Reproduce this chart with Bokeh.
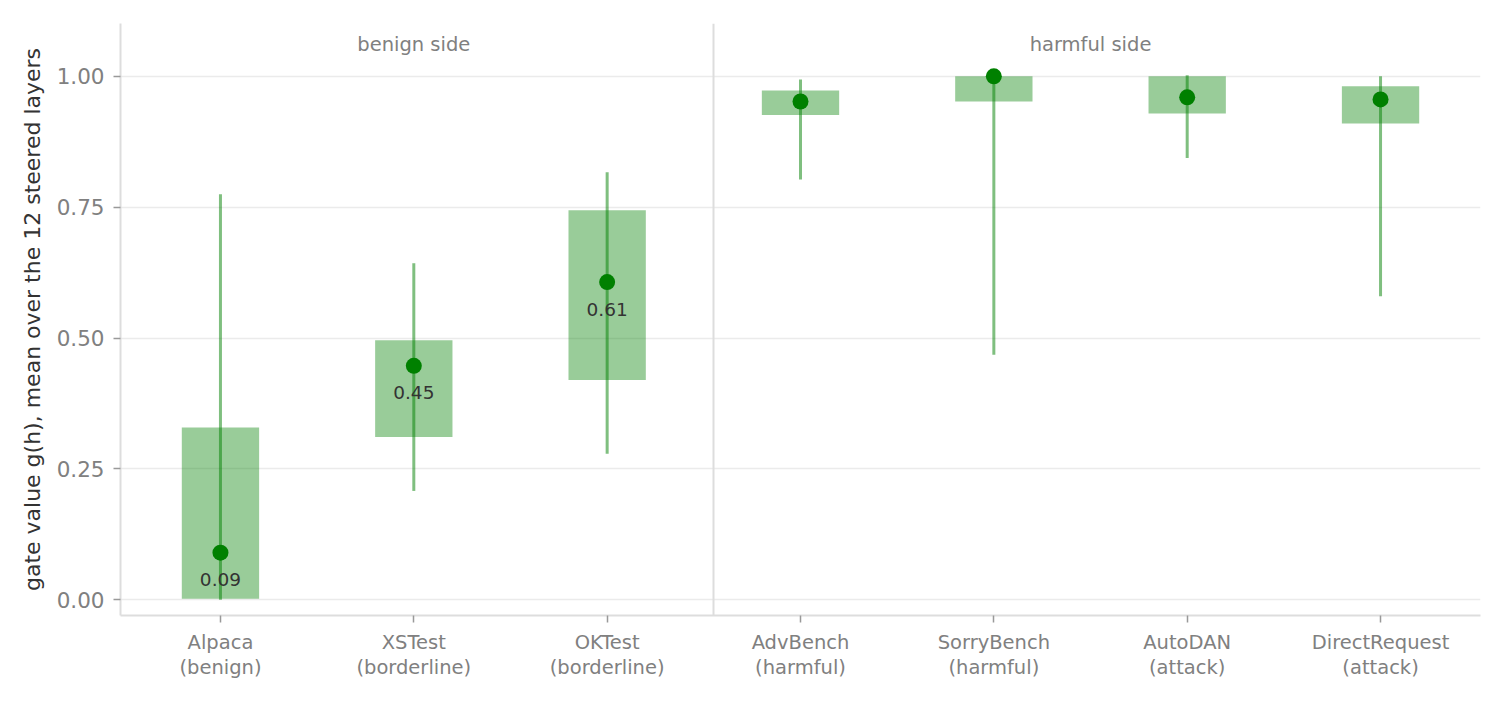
from bokeh.plotting import figure
from bokeh.models import FactorRange, Span, ColumnDataSource
from bokeh.core.properties import value
from bokeh.embed import file_html
from bokeh.resources import INLINE

categories = ["Alpaca\n(benign)", "XSTest\n(borderline)", "OKTest\n(borderline)",
              "AdvBench\n(harmful)", "SorryBench\n(harmful)", "AutoDAN\n(attack)",
              "DirectRequest\n(attack)"]
means = [0.090, 0.447, 0.607, 0.952, 1.000, 0.960, 0.956]
q_low = [0.002, 0.311, 0.420, 0.926, 0.952, 0.929, 0.910]
q_high = [0.329, 0.496, 0.744, 0.973, 1.000, 1.000, 0.981]
w_low = [0.000, 0.208, 0.279, 0.803, 0.468, 0.844, 0.580]
w_high = [0.775, 0.643, 0.817, 0.994, 1.000, 1.002, 1.000]
n_benign = 3
group_labels = ["benign side", "harmful side"]
group_centers = [1.5, 5.0]
group_y = [1.061, 1.061]

FONT = "DejaVu Sans"

p = figure(x_range=FactorRange(factors=categories, range_padding=0.017, range_padding_units="absolute"),
           y_range=(-0.03, 1.101),
           width=1488, height=688, output_backend="svg", toolbar_location=None,
           min_border_left=120, min_border_right=8, min_border_top=23, min_border_bottom=73)
p.outline_line_color = None
p.background_fill_color = "white"
p.border_fill_color = "white"

src = ColumnDataSource(dict(x=categories, m=means, ql=q_low, qh=q_high, wl=w_low, wh=w_high))
p.vbar(x="x", width=0.4, bottom="ql", top="qh", source=src,
       fill_color="green", fill_alpha=0.4, line_color=None)
p.segment(x0="x", y0="wl", x1="x", y1="wh", source=src,
          line_color="green", line_alpha=0.5, line_width=3)
p.scatter(x="x", y="m", source=src, size=16, fill_color="green", line_color=None)

lab = ColumnDataSource(dict(x=categories[:n_benign], y=means[:n_benign],
                            t=["%.2f" % v for v in means[:n_benign]]))
p.text(x="x", y="y", text="t", source=lab, text_align="center", text_baseline="middle",
       y_offset=27, text_font=value(FONT), text_font_size="18.5px", text_color="#333333")

p.text(x=group_centers, y=group_y, text=group_labels, text_align="center", text_baseline="middle",
       text_font=value(FONT), text_font_size="19.5px", text_color="#808080")

p.add_layout(Span(location=3.05, dimension="height", line_color="#dddddd", line_width=2))

p.xgrid.grid_line_color = None
p.ygrid.grid_line_color = "#ebebeb"
p.ygrid.grid_line_width = 1.5
p.yaxis.ticker = [0, 0.25, 0.5, 0.75, 1.0]
p.yaxis.major_label_overrides = {0: "0.00", 0.25: "0.25", 0.5: "0.50", 0.75: "0.75", 1.0: "1.00"}
p.yaxis.axis_label = "gate value g(h), mean over the 12 steered layers"
p.yaxis.axis_label_text_font = FONT
p.yaxis.axis_label_text_font_style = "normal"
p.yaxis.axis_label_text_font_size = "22px"
p.yaxis.axis_label_text_color = "#333333"
p.yaxis.axis_label_standoff = 9
for ax in (p.xaxis, p.yaxis):
    ax.axis_line_color = "#dddddd"
    ax.axis_line_width = 2
    ax.major_tick_line_color = "#999999"
    ax.major_tick_line_width = 1.5
    ax.major_tick_out = 7
    ax.major_tick_in = 0
    ax.minor_tick_line_color = None
    ax.major_label_text_font = FONT
    ax.major_label_text_color = "#808080"
p.yaxis.major_label_text_font_size = "21.5px"
p.yaxis.major_label_standoff = 9
p.xaxis.major_label_text_font_size = "19.5px"
p.xaxis.major_label_text_line_height = 1.1
p.xaxis.major_label_standoff = 8

open("out.html", "w").write(file_html(p, INLINE))
